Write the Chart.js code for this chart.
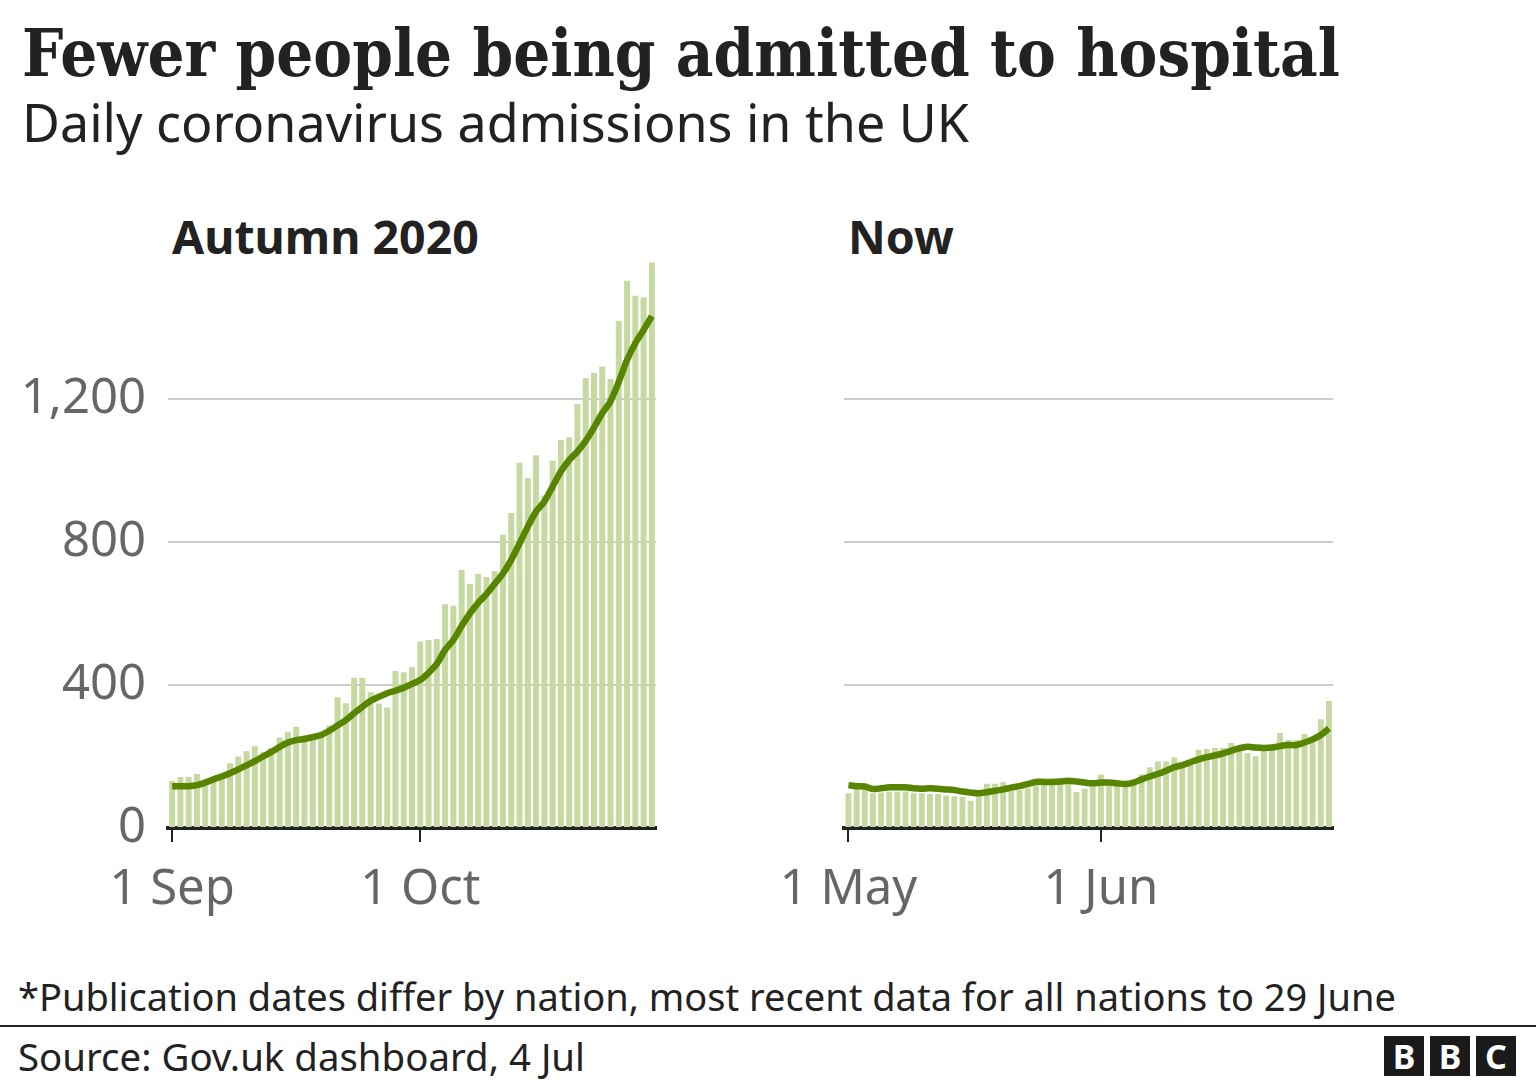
<!DOCTYPE html>
<html>
<head>
<meta charset="utf-8">
<script src="https://cdn.jsdelivr.net/npm/chart.js@4.4.1/dist/chart.umd.min.js"></script>
<style>
  body { margin: 0; background: #fff; width: 1536px; height: 1080px; position: relative; overflow: hidden; font-family: "Noto Sans", sans-serif; color: #222; }
  .txt { position: absolute; white-space: nowrap; }
  #title { left: 22px; top: 14px; font-family: "DejaVu Serif", serif; font-weight: bold; font-size: 66px; transform: scaleX(0.883); transform-origin: 0 0; }
  #subtitle { left: 22px; top: 86px; font-size: 52px; }
  .panel { top: 204px; font-weight: bold; font-size: 46.5px; }
  #note { left: 18px; top: 970px; font-size: 38px; }
  #rule { position: absolute; left: 0; top: 1025px; width: 1536px; height: 2px; background: #222; }
  #source { left: 18px; top: 1030px; font-size: 38.4px; }
  #logo { position: absolute; left: 1384px; top: 1036px; }
  #logo div { float: left; width: 40px; height: 40px; margin-right: 6px; background: #1a1a1a; color: #fff; font-weight: bold; font-size: 34px; line-height: 40px; text-align: center; }
  canvas { position: absolute; }
</style>
</head>
<body>
<div id="title" class="txt">Fewer people being admitted to hospital</div>
<div id="subtitle" class="txt">Daily coronavirus admissions in the UK</div>
<div class="txt panel" style="left:172px">Autumn 2020</div>
<div class="txt panel" style="left:848px">Now</div>
<canvas id="autumnChart" width="680" height="760" style="left:0;top:200px"></canvas>
<canvas id="nowChart" width="590" height="760" style="left:760px;top:200px"></canvas>
<div id="note" class="txt">*Publication dates differ by nation, most recent data for all nations to 29 June</div>
<div id="rule"></div>
<div id="source" class="txt">Source: Gov.uk dashboard, 4 Jul</div>
<div id="logo"><div>B</div><div>B</div><div>C</div></div>
<script>
// daily admissions, 1 Sep - 29 Oct 2020
var autumnDaily = [131, 143, 143, 151, 125, 140, 150, 181, 200, 215,
  229, 212, 224, 253, 269, 283, 259, 255, 265, 287,
  366, 349, 420, 420, 380, 348, 337, 439, 436, 450,
  522, 526, 529, 626, 622, 722, 683, 711, 702, 718,
  820, 881, 1022, 979, 1043, 930, 1027, 1085, 1093, 1186,
  1258, 1273, 1290, 1256, 1419, 1531, 1489, 1484, 1582];
// 7-day average
var autumnAvg = [117, 117, 117, 120, 127, 136, 144, 153, 164, 175,
  187, 200, 213, 227, 239, 246, 249, 254, 260, 272,
  287, 302, 321, 339, 356, 367, 377, 384, 392, 403,
  414, 434, 459, 498, 526, 565, 600, 630, 654, 683,
  712, 750, 796, 843, 885, 913, 955, 997, 1029, 1053,
  1083, 1120, 1160, 1194, 1248, 1309, 1356, 1393, 1432];

// daily admissions, 1 May - 29 Jun 2021
var nowDaily = [97, 111, 108, 97, 99, 102, 102, 102, 97, 97,
  95, 95, 91, 89, 87, 76, 92, 124, 124, 128,
  104, 106, 111, 125, 128, 128, 128, 128, 101, 110,
  122, 150, 124, 122, 120, 125, 150, 170, 186, 186,
  197, 180, 188, 219, 221, 224, 224, 238, 220, 209,
  201, 218, 220, 266, 246, 246, 263, 250, 304, 355];
var nowAvg = [120, 117, 116, 109, 111, 114, 114, 114, 111, 110,
  111, 110, 108, 106, 102, 99, 97, 100, 104, 108,
  113, 117, 123, 129, 129, 129, 130, 132, 130, 127,
  125, 127, 127, 125, 123, 127, 136, 144, 151, 160,
  170, 176, 184, 192, 198, 203, 209, 216, 223, 227,
  225, 224, 225, 229, 232, 232, 239, 248, 260, 279];

var yTicks = [0, 400, 800, 1200];
var autumnTicks = { 0: "1 Sep", 30: "1 Oct" };
var nowTicks = { 0: "1 May", 31: "1 Jun" };

function dayLabels(year, month, day, count) {
  var out = [];
  for (var i = 0; i < count; i++) {
    var d = new Date(year, month, day + i);
    out.push(d.getDate() + "/" + (d.getMonth() + 1));
  }
  return out;
}

function makeChart(id, labels, daily, avg, tickText, showY, yWidth, padding) {
  var ctx = document.getElementById(id).getContext("2d");
  return new Chart(ctx, {
    type: "bar",
    data: {
      labels: labels,
      datasets: [
        {
          type: "line",
          data: avg,
          borderColor: "#588500",
          borderWidth: 6.5,
          pointRadius: 0,
          tension: 0.3,
          order: 0,
        },
        {
          data: daily,
          backgroundColor: "#c6d9a0",
          barPercentage: 0.72,
          categoryPercentage: 1,
          order: 1,
        },
      ],
    },
    options: {
      responsive: false,
      animation: false,
      layout: { padding: padding },
      plugins: { legend: { display: false }, tooltip: { enabled: false } },
      scales: {
        x: {
          offset: true,
          afterFit: function (scale) { scale.height = 110; },
          border: { display: true, color: "#222", width: 4 },
          grid: { offset: false, drawOnChartArea: false, tickLength: 14, color: "#222", lineWidth: 2 },
          ticks: {
            autoSkip: false,
            maxRotation: 0,
            padding: 19,
            color: "#666",
            font: { family: "Noto Sans", size: 49 },
            callback: function (v, i) { return tickText[i] !== undefined ? tickText[i] : null; },
          },
        },
        y: {
          min: 0,
          max: 1600,
          afterBuildTicks: function (axis) { axis.ticks = yTicks.map(function (v) { return { value: v }; }); },
          afterFit: function (scale) { scale.width = yWidth; },
          border: { display: false },
          grid: {
            drawTicks: false,
            lineWidth: 2,
            color: function (c) { return c.tick && c.tick.value === 0 ? "rgba(0,0,0,0)" : "#cccccc"; },
          },
          ticks: {
            display: showY,
            padding: 22,
            color: "#666",
            font: { family: "Noto Sans", size: 49 },
            callback: function (v) { return v.toLocaleString("en-GB"); },
          },
        },
      },
    },
  });
}

makeChart("autumnChart", dayLabels(2020, 8, 1, autumnDaily.length), autumnDaily, autumnAvg, autumnTicks, true, 168,
  { top: 56, right: 24, bottom: 22, left: 0 });
makeChart("nowChart", dayLabels(2021, 4, 1, nowDaily.length), nowDaily, nowAvg, nowTicks, false, 75,
  { top: 56, right: 17, bottom: 22, left: 0 });
</script>
</body>
</html>
